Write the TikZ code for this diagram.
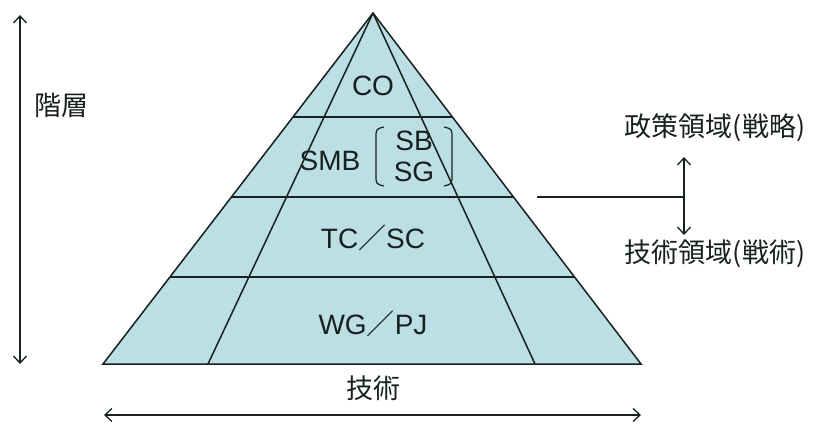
\documentclass[tikz,border=0pt]{standalone}
\usepackage{fontspec}
\setmainfont{Liberation Sans}
\newfontfamily\cjk{Noto Sans CJK JP}
\usetikzlibrary{arrows.meta}
\definecolor{pyfill}{RGB}{187,223,228}
\definecolor{ink}{RGB}{25,32,32}
\tikzset{
  pyline/.style={draw=ink, line width=1.5pt},
  lbl/.style={font=\fontsize{28}{30}\selectfont, text=ink, inner sep=0pt},
  jlbl/.style={font=\cjk\fontsize{27}{30}\selectfont, text=ink, inner sep=0pt},
  darrow/.style={draw=ink, line width=1.3pt, {Straight Barb[length=7pt,width=13pt]}-{Straight Barb[length=7pt,width=13pt]}},
  brk/.style={draw=ink, line width=1.2pt}
}
\begin{document}
\begin{tikzpicture}[x=1pt,y=-1pt]
\useasboundingbox (0,0) rectangle (819,425);
\coordinate (A) at (373,13);
\coordinate (BL) at (103,364);
\coordinate (BR) at (641,364);
\coordinate (IL) at (208,364);
\coordinate (IR) at (535,364);
% fill
\fill[pyfill] (A) -- (BL) -- (BR) -- cycle;
% horizontal bands
\foreach \yy/\nm in {117/a,197/b,277/c}{
  \path (A) -- (BL) coordinate[pos={(\yy-13)/351}] (L\nm);
  \path (A) -- (BR) coordinate[pos={(\yy-13)/351}] (R\nm);
  \draw[pyline] (L\nm) -- (R\nm);
}
\draw[pyline] (A) -- (IL);
\draw[pyline] (A) -- (IR);
\draw[pyline, line join=miter] (A) -- (BL) -- (BR) -- cycle;
% labels
\node[lbl] (co) at (373,86) {CO};
\node[lbl] (smb) at (330,161) {SMB};
\node[lbl] (sb) at (414,141) {SB};
\node[lbl] (sg) at (414,172) {SG};
\node[lbl] (tc) at (373,238) {TC{\cjk ／}SC};
\node[lbl] (wg) at (373,324) {WG{\cjk ／}PJ};
% brackets
\draw[brk] (384,127) .. controls (376,129) .. (376,138) -- (376,175) .. controls (376,184) .. (384,186);
\draw[brk] (444,127) .. controls (452,129) .. (452,138) -- (452,175) .. controls (452,184) .. (444,186);
% left arrow
\coordinate (vt) at (20,15);
\coordinate (vb) at (20,364);
\draw[darrow] (vt) -- (vb);
\node[jlbl] (kaiso) at (61,105) {階層};
% bottom arrow
\coordinate (hl) at (104,415);
\coordinate (hr) at (641,415);
\draw[darrow] (hl) -- (hr);
\node[jlbl] (gijutsu) at (373,388) {技術};
% right connector
\coordinate (cs) at (537,197);
\coordinate (cj) at (684,197);
\coordinate (ct) at (684,157);
\coordinate (cb) at (684,235);
\draw[ink, line width=1.3pt] (cs) -- (cj);
\draw[darrow] (ct) -- (cb);
\node[jlbl] (seisaku) at (715,128) {政策領域(戦略)};
\node[jlbl] (gijutsuryo) at (715,254) {技術領域(戦術)};
\end{tikzpicture}
\end{document}
